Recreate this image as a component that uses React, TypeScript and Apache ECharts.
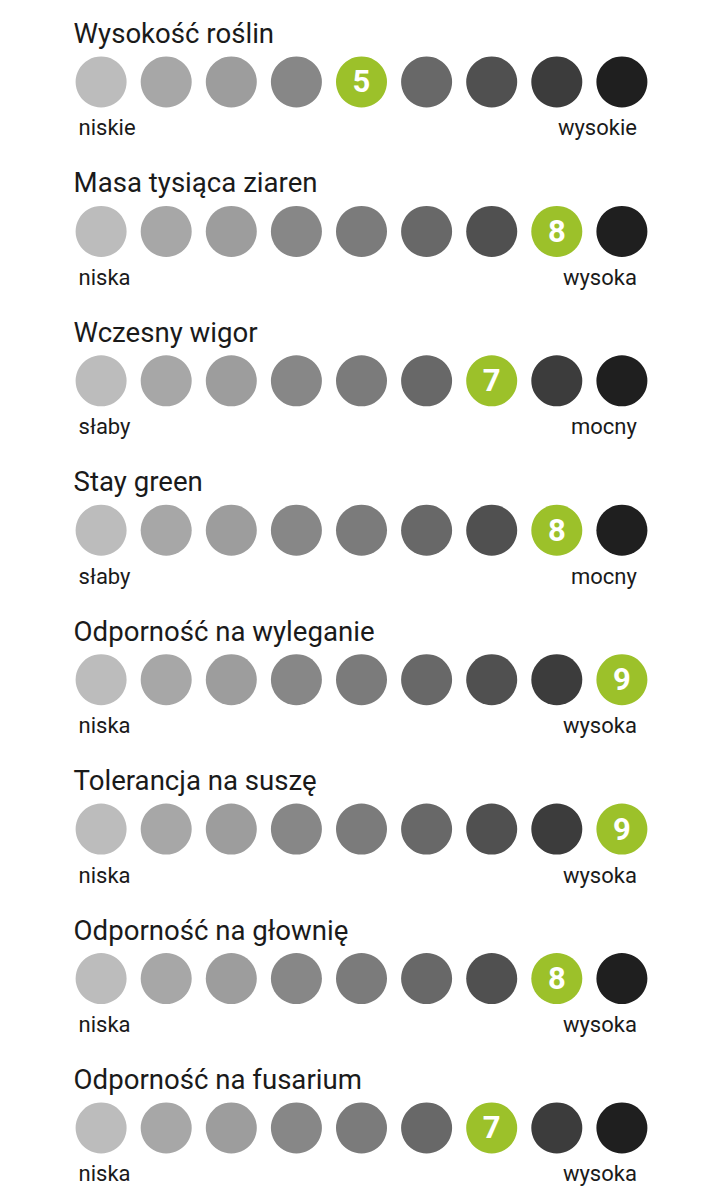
import React, { useEffect, useRef } from "react";
import * as echarts from "echarts";

const titles = [
  "Wysokość roślin",
  "Masa tysiąca ziaren",
  "Wczesny wigor",
  "Stay green",
  "Odporność na wyleganie",
  "Tolerancja na suszę",
  "Odporność na głownię",
  "Odporność na fusarium",
];
const scores = [5, 8, 7, 8, 9, 9, 8, 7];
const lowLabels = ["niskie", "niska", "słaby", "słaby", "niska", "niska", "niska", "niska"];
const highLabels = ["wysokie", "wysoka", "mocny", "mocny", "wysoka", "wysoka", "wysoka", "wysoka"];
const steps = [1, 2, 3, 4, 5, 6, 7, 8, 9];
const grayScale = [
  "#bcbcbc", "#a7a7a7", "#9d9d9d", "#878787", "#7b7b7b",
  "#686868", "#505050", "#3c3c3c", "#1f1f1f",
];
const GREEN = "#9cc12a";
const FONT = "Roboto";

export default function App() {
  const ref = useRef<HTMLDivElement>(null);
  useEffect(() => {
    const chart = echarts.init(ref.current!, null, { renderer: "svg" });
    const dots: any[] = [];
    titles.forEach((_, r) => {
      steps.forEach((s, i) => {
        const sel = s === scores[r];
        dots.push({
          value: [s, r],
          itemStyle: { color: sel ? GREEN : grayScale[i], opacity: 1 },
          label: sel
            ? {
                show: true,
                position: "inside",
                formatter: String(s),
                color: "#ffffff",
                fontSize: 31,
                fontWeight: "bold",
                fontFamily: FONT,
              }
            : { show: false },
        });
      });
    });
    const hidden = { color: "transparent", opacity: 1 };
    chart.setOption({
      animation: false,
      grid: { left: 36, width: 651, top: 22.2, height: 1165.5 },
      xAxis: { type: "value", min: 0, max: 10, show: false },
      yAxis: { type: "value", min: -0.4, max: 7.4, inverse: true, show: false },
      series: [
        {
          type: "scatter",
          symbol: "circle",
          symbolSize: 51,
          itemStyle: { opacity: 1 },
          emphasis: { disabled: true },
          data: dots,
        },
        {
          type: "scatter",
          symbolSize: 1,
          itemStyle: hidden,
          emphasis: { disabled: true },
          data: titles.map((t, r) => ({ value: [1, r], name: t })),
          label: {
            show: true,
            position: [-27, -48],
            align: "left",
            verticalAlign: "middle",
            formatter: (p: any) => p.name,
            color: "#1a1a1a",
            fontSize: 27.6,
            fontFamily: FONT,
          },
        },
        {
          type: "scatter",
          symbolSize: 1,
          itemStyle: hidden,
          emphasis: { disabled: true },
          data: lowLabels.map((t, r) => ({ value: [1, r], name: t })),
          label: {
            show: true,
            position: [-22, 46.5],
            align: "left",
            verticalAlign: "middle",
            formatter: (p: any) => p.name,
            color: "#1a1a1a",
            fontSize: 22,
            fontFamily: FONT,
          },
        },
        {
          type: "scatter",
          symbolSize: 1,
          itemStyle: hidden,
          emphasis: { disabled: true },
          data: highLabels.map((t, r) => ({ value: [9, r], name: t })),
          label: {
            show: true,
            position: [15.5, 46.5],
            align: "right",
            verticalAlign: "middle",
            formatter: (p: any) => p.name,
            color: "#1a1a1a",
            fontSize: 22,
            fontFamily: FONT,
          },
        },
      ],
    });
    return () => chart.dispose();
  }, []);
  return (
    <div
      ref={ref}
      style={{ position: "fixed", left: 0, top: 0, width: 721, height: 1201, background: "#ffffff" }}
    />
  );
}
